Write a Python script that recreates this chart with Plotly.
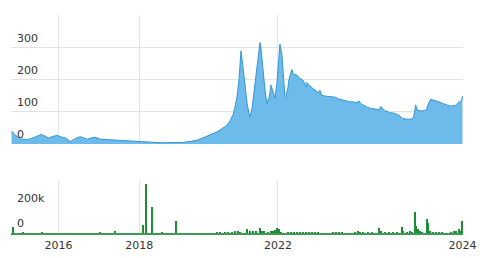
import plotly.graph_objects as go

# ---- data (x is a trading-index position, ticks mark year starts) ----
price_idx = [0, 3, 9, 15, 19, 25, 30, 34, 37, 42, 46, 50, 54, 59, 64, 69, 73, 76, 80, 84,
             89, 94, 99, 107, 116, 122, 128, 135, 142, 149, 156, 164, 172, 179, 186, 191, 196,
             201, 206, 211, 216, 219, 222, 224, 226, 228, 229, 230, 232, 234, 236, 238, 239,
             241, 243, 245, 247, 249, 250, 252, 254, 256, 258, 259, 260, 262, 264, 266, 267.7,
             269, 271, 273, 274, 275, 277, 278, 279.7, 281, 282, 284, 285, 287, 289, 290, 292,
             293.7, 295, 296, 298, 300, 302, 304, 306, 308, 309, 311, 314, 316, 319, 322, 325,
             327, 331, 335, 339, 344, 347, 348, 351, 354, 357, 361, 365, 368, 369, 370, 374,
             379, 384, 389, 392, 395, 399, 402, 403, 404, 405, 407, 411, 414, 416, 417, 420,
             422, 426, 429, 432, 436, 439, 442, 445, 447, 449, 450, 451, 452]
price_val = [41, 30, 16, 14, 16, 25, 30, 24, 19, 24, 27, 22, 19, 8, 17, 23, 18, 15, 19, 21,
             15, 14, 12, 11, 10, 9, 7, 5, 4, 4, 4, 4, 5, 8, 12, 18, 25,
             31, 38, 48, 59, 72, 91, 115, 148, 200, 242, 291, 240, 180, 130, 95, 84,
             110, 160, 215, 270, 317, 300, 230, 170, 127, 143, 160, 184, 165, 143, 190, 270,
             312, 280, 200, 150, 148, 175, 200, 215, 233, 220, 216, 218, 212, 206, 202, 200,
             190, 177, 192, 184, 180, 173, 168, 163, 160, 168, 152, 150, 149, 148, 147, 146,
             141, 138, 135, 132, 131, 128, 135, 123, 120, 114, 111, 109, 107, 107, 117, 105,
             98, 96, 88, 80, 78, 77, 80, 85, 100, 122, 105, 103, 105, 106, 120, 140,
             138, 135, 131, 127, 122, 119, 119, 121, 127, 130, 132, 135, 150, 169]

vol_idx = [1.7, 12, 31, 89, 104, 132, 134.7, 140.7, 150.7, 165,
           206, 209, 214, 217, 221, 224, 227, 229,
           236, 239, 242, 245, 248.7, 251, 253.7, 257, 260, 262, 264, 266, 268, 270,
           277, 280, 283, 286, 289, 292, 295, 298, 301, 304, 307,
           322, 325, 328, 331, 344, 347, 349, 352, 357, 361,
           368.7, 370, 374, 378, 382, 386, 391.3, 393, 397, 400, 402,
           404.7, 406, 408, 410, 412, 417, 418, 420, 423, 426, 429, 432,
           441, 444, 446, 448.7, 450, 452]
vol_val = [50000, 4000, 4000, 5000, 10000, 64000, 392000, 210000, 5000, 96000,
           5000, 6000, 5000, 8000, 6000, 10000, 12000, 8000,
           30000, 10000, 20000, 12000, 37000, 10000, 20000, 8000, 10000, 15000, 25000, 37000, 35000, 8000,
           6000, 5000, 7000, 6000, 8000, 5000, 6000, 7000, 5000, 6000, 5000,
           5000, 5000, 5000, 5000, 8000, 15000, 8000, 5000, 5000, 5000,
           43000, 20000, 5000, 5000, 5000, 5000, 50000, 20000, 8000, 10000, 8000,
           170000, 60000, 30000, 10000, 8000, 110000, 80000, 20000, 8000, 6000, 5000, 5000,
           8000, 10000, 15000, 30000, 20000, 96000]

year_pos = [47, 128, 267, 452]
year_txt = ["2016", "2018", "2022", "2024"]
price_ticks = [0, 100, 200, 300]
vol_ticks = [0, 200000]
vol_tick_txt = ["0", "200k"]

FONT = "DejaVu Sans"
GRID = "#e3e3e3"
TXT = "#333333"

fig = go.Figure()
fig.add_trace(go.Scatter(x=price_idx, y=price_val, mode="lines", fill="tozeroy",
                         line=dict(color="#3596d5", width=1), fillcolor="#6cbbea",
                         xaxis="x", yaxis="y", hoverinfo="skip"))
fig.add_trace(go.Bar(x=vol_idx, y=vol_val, width=1.3, marker=dict(color="#1f8c36", line=dict(width=0)),
                     xaxis="x2", yaxis="y2", hoverinfo="skip"))

H = 258
mt, mb = 15, 25
ph = H - mt - mb
top_dom = [(H - mb - 144) / ph, 1.0]
bot_dom = [0.0, (H - mb - 181) / ph]
xr = [-0.5, 452.5]

fig.update_layout(
    width=486, height=258,
    margin=dict(l=11, r=23, t=mt, b=mb, autoexpand=False),
    paper_bgcolor="white", plot_bgcolor="white",
    showlegend=False,
    bargap=0,
    font=dict(family=FONT, size=11, color=TXT),
    xaxis=dict(domain=[0, 1], anchor="y", range=xr, tickvals=year_pos, automargin=False,
               showticklabels=False, showgrid=True, gridcolor=GRID, gridwidth=1,
               zeroline=False, showline=False, ticks=""),
    yaxis=dict(domain=top_dom, anchor="x", range=[0, 403], tickvals=price_ticks,
               automargin=False,
               showgrid=True, gridcolor=GRID, gridwidth=1, zeroline=False,
               ticklabelposition="inside", ticklabelshift=-10, ticklabelstandoff=3,
               tickfont=dict(family=FONT, size=11, color=TXT), ticks=""),
    xaxis2=dict(domain=[0, 1], anchor="y2", matches="x", range=xr, tickvals=year_pos,
                automargin=False,
                ticktext=year_txt, showgrid=True, gridcolor=GRID, gridwidth=1,
                zeroline=False, showline=True, linecolor="#3f9a55", linewidth=2, ticks="",
                ticklabelstandoff=1,
                tickfont=dict(family=FONT, size=11, color=TXT)),
    yaxis2=dict(domain=bot_dom, anchor="x2", range=[0, 416000], tickvals=vol_ticks,
                automargin=False,
                ticktext=vol_tick_txt, showgrid=False, zeroline=False,
                ticklabelposition="inside", ticklabelshift=-10, ticklabelstandoff=3,
                tickfont=dict(family=FONT, size=11, color=TXT), ticks=""),
)

fig.write_html("out.html")
